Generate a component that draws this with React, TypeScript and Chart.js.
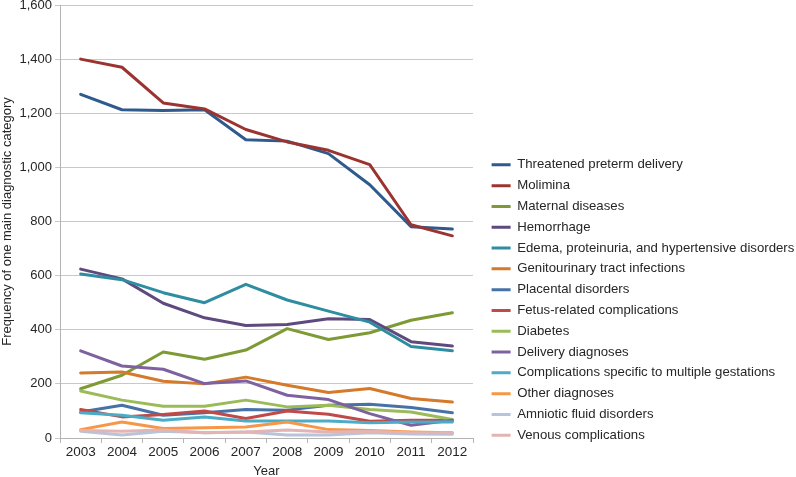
import React, { useEffect, useRef } from "react";
import { Chart, registerables } from "chart.js";

Chart.register(...registerables);

const years = ["2003", "2004", "2005", "2006", "2007", "2008", "2009", "2010", "2011", "2012"];

const threatenedPreterm = [1270, 1213, 1210, 1213, 1102, 1097, 1051, 936, 781, 772];
const molimina = [1400, 1370, 1238, 1216, 1140, 1094, 1063, 1010, 788, 747];
const maternalDiseases = [182, 232, 318, 291, 325, 404, 364, 389, 435, 463];
const hemorrhage = [624, 588, 498, 444, 416, 419, 441, 438, 356, 340];
const edema = [606, 585, 537, 500, 568, 510, 469, 428, 338, 322];
const genitourinary = [240, 244, 210, 200, 225, 195, 168, 183, 146, 133];
const placental = [96, 121, 84, 93, 105, 103, 121, 125, 113, 93];
const fetusRelated = [105, 78, 87, 100, 72, 100, 88, 62, 66, 66];
const diabetes = [174, 140, 117, 117, 140, 115, 121, 105, 96, 68];
const deliveryDiagnoses = [322, 266, 254, 201, 211, 158, 142, 90, 47, 66];
const multipleGestations = [93, 84, 66, 78, 63, 63, 63, 56, 59, 59];
const otherDiagnoses = [31, 59, 35, 38, 41, 59, 31, 28, 22, 19];
const amnioticFluid = [25, 11, 25, 19, 22, 11, 11, 19, 15, 14];
const venous = [28, 25, 30, 19, 22, 30, 22, 25, 19, 19];

const seriesNames = [
  "Threatened preterm delivery",
  "Molimina",
  "Maternal diseases",
  "Hemorrhage",
  "Edema, proteinuria, and hypertensive disorders",
  "Genitourinary tract infections",
  "Placental disorders",
  "Fetus-related complications",
  "Diabetes",
  "Delivery diagnoses",
  "Complications specific to multiple gestations",
  "Other diagnoses",
  "Amniotic fluid disorders",
  "Venous complications",
];

const seriesColors = [
  "#2F5A8E",
  "#9B3430",
  "#7D9A35",
  "#5E4A7E",
  "#2F8DA2",
  "#D5792B",
  "#4672A8",
  "#BF4A47",
  "#9BBB59",
  "#7E62A0",
  "#4BACC6",
  "#F79646",
  "#B6C4DC",
  "#E2B4B3",
];

const yTicks = [0, 200, 400, 600, 800, 1000, 1200, 1400, 1600];

const FONT = "'Liberation Sans', Arial, sans-serif";

export default function App() {
  const ref = useRef<HTMLCanvasElement>(null);

  useEffect(() => {
    document.body.style.margin = "0";
    const values = [
      threatenedPreterm,
      molimina,
      maternalDiseases,
      hemorrhage,
      edema,
      genitourinary,
      placental,
      fetusRelated,
      diabetes,
      deliveryDiagnoses,
      multipleGestations,
      otherDiagnoses,
      amnioticFluid,
      venous,
    ];

    const legendPlace = {
      id: "legendPlace",
      afterLayout(chart: any) {
        const lg = chart.legend;
        if (!lg) return;
        const w = lg.right - lg.left;
        lg.left = 484;
        lg.right = 484 + w;
        lg.bottom = 449.5;
        if (lg.columnSizes && lg.columnSizes[0]) {
          lg.columnSizes[0].height += 0.05;
        }
      },
    };

    const chart = new Chart(ref.current as HTMLCanvasElement, {
      type: "line",
      data: {
        labels: years,
        datasets: seriesNames.map((name, i) => ({
          label: name,
          data: values[i],
          borderColor: seriesColors[i],
          backgroundColor: seriesColors[i],
          borderWidth: 3,
          pointRadius: 0,
          pointHoverRadius: 0,
          tension: 0,
          fill: false,
          order: -i,
          borderJoinStyle: "round" as const,
          borderCapStyle: "round" as const,
        })),
      },
      options: {
        responsive: false,
        animation: false,
        events: [],
        layout: { padding: { top: 5, right: 2.7, bottom: 0, left: 0 } },
        plugins: {
          tooltip: { enabled: false },
          legend: {
            position: "right",
            align: "end",
            fullSize: false,
            maxWidth: 340,
            labels: {
              usePointStyle: true,
              pointStyle: "line",
              pointStyleWidth: 19,
              boxHeight: 13.2,
              padding: 7.6,
              color: "#262626",
              font: { family: FONT, size: 13.2 },
              sort: (a: any, b: any) => a.datasetIndex - b.datasetIndex,
            },
          },
        },
        scales: {
          x: {
            type: "category",
            offset: true,
            grid: {
              offset: true,
              drawOnChartArea: false,
              drawTicks: true,
              tickLength: 5,
              color: "#b4b4b4",
            },
            border: { display: true, color: "#b4b4b4", width: 1 },
            ticks: {
              color: "#262626",
              font: { family: FONT, size: 13.5 },
              padding: 1,
              maxRotation: 0,
              autoSkip: false,
            },
            title: {
              display: true,
              text: "Year",
              color: "#262626",
              font: { family: FONT, size: 13 },
              padding: { top: 0, bottom: -2 },
            },
            afterFit(scale: any) {
              scale.height = 39;
              scale.paddingLeft = 0;
              scale.paddingRight = 0;
            },
          },
          y: {
            min: 0,
            max: 1600,
            grid: {
              color: "#c8c8c8",
              lineWidth: 1,
              drawTicks: true,
              tickLength: 5,
            },
            border: { display: true, color: "#b4b4b4", width: 1 },
            afterBuildTicks(scale: any) {
              scale.ticks = yTicks.map((v) => ({ value: v }));
            },
            ticks: {
              color: "#262626",
              font: { family: FONT, size: 13 },
              padding: 3,
              callback: (v: any) => Number(v).toLocaleString("en-US"),
            },
            title: {
              display: true,
              text: "Frequency of one main diagnostic category",
              color: "#262626",
              font: { family: FONT, size: 13 },
              padding: { top: 0, bottom: 0 },
            },
            afterFit(scale: any) {
              scale.width = 60;
              scale.paddingTop = 0;
              scale.paddingBottom = 0;
            },
          },
        },
      },
      plugins: [legendPlace],
    });

    return () => chart.destroy();
  }, []);

  return (
    <div style={{ width: 796, height: 477 }}>
      <canvas ref={ref} width={796} height={477} style={{ display: "block" }} />
    </div>
  );
}
